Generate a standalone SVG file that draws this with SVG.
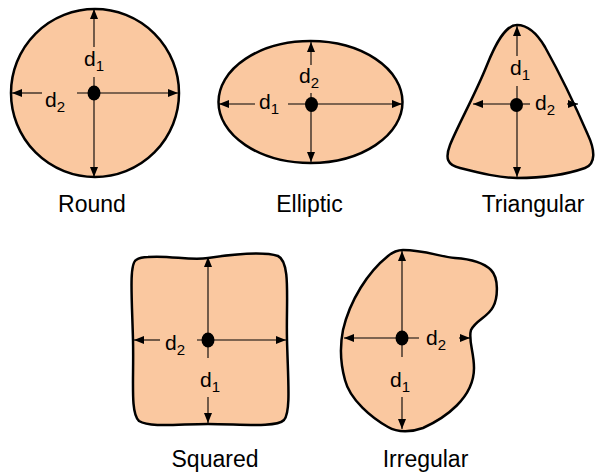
<svg xmlns="http://www.w3.org/2000/svg" width="596" height="474" viewBox="0 0 596 474">
<style>
.shape{fill:#FAC8A0;stroke:#000;stroke-width:2.5;stroke-linejoin:round}
.dim{stroke:#000;stroke-width:1.1;fill:none}
.dot{fill:#000}
.lab{font-family:"Liberation Sans",Arial,sans-serif;font-size:21px;fill:#000}
.cap{font-family:"Liberation Sans",Arial,sans-serif;font-size:23px;fill:#000;text-anchor:middle}
</style>
<defs>
<marker id="ah" viewBox="0 0 10 8" refX="10" refY="4" markerWidth="10" markerHeight="8" markerUnits="userSpaceOnUse" orient="auto-start-reverse">
<path d="M0,0 L10,4 L0,8 Z" fill="#000"/>
</marker>
</defs>
<rect width="596" height="474" fill="#fff"/>

<g id="round">
<circle class="shape" cx="95" cy="93" r="84"/>
<text class="lab" x="84" y="66">d<tspan font-size="15" dy="5">1</tspan></text>
<text class="lab" x="45" y="107">d<tspan font-size="15" dy="5">2</tspan></text>
<ellipse class="dot" cx="94" cy="93" rx="6.5" ry="7.5"/>
</g>
<g id="elliptic">
<ellipse class="shape" cx="310.5" cy="102" rx="92" ry="61"/>
<text class="lab" x="299" y="83">d<tspan font-size="15" dy="5">2</tspan></text>
<text class="lab" x="259" y="109">d<tspan font-size="15" dy="5">1</tspan></text>
<ellipse class="dot" cx="311.5" cy="104.5" rx="6.5" ry="7.5"/>
</g>
<g id="triangular">
<path class="shape" d="M517,25 C505,25 495,45 487,65 C475,95 458,125 450,145 C445,158 447,165 460,168 C480,173 500,178 517,178 C540,178 565,175 585,168 C596,164 595,150 588,135 C575,105 555,65 545,47 C535,30 525,25 517,25 Z"/>
<text class="lab" x="510" y="75">d<tspan font-size="15" dy="5">1</tspan></text>
<text class="lab" x="535" y="110">d<tspan font-size="15" dy="5">2</tspan></text>
<ellipse class="dot" cx="516.5" cy="105" rx="6.5" ry="7"/>
</g>
<g id="squared">
<path class="shape" d="M148,257 C170,255 190,261 208,258 C235,254 262,251 278,256 C291,262 286,300 287,340 C288,380 291,412 284,420 C276,428 240,424 208,424 C180,424 150,428 139,421 C130,413 134,380 133,340 C132,300 129,264 136,260 C139,258 142,257 148,257 Z"/>
<text class="lab" x="165" y="350">d<tspan font-size="15" dy="5">2</tspan></text>
<text class="lab" x="200" y="387">d<tspan font-size="15" dy="5">1</tspan></text>
<ellipse class="dot" cx="208" cy="340" rx="6.5" ry="7.5"/>
</g>
<g id="irregular">
<path class="shape" d="M403,250 C425,250 440,257 455,258 C470,259 483,262 491,270 C499,278 498,298 493,307 C488,317 476,320 471,330 C468,340 474,352 474,368 C474,398 445,418 423,428 C412,432 398,433 388,427 C372,418 350,400 345,380 C340,362 340,345 343,330 C350,300 368,272 388,256 C394,251 398,250 403,250 Z"/>
<text class="lab" x="426" y="345">d<tspan font-size="15" dy="5">2</tspan></text>
<text class="lab" x="390" y="387">d<tspan font-size="15" dy="5">1</tspan></text>
<ellipse class="dot" cx="402" cy="338" rx="6.5" ry="7.5"/>
</g>

<g id="connectors">
<line class="dim" x1="94" y1="47" x2="94" y2="9" marker-end="url(#ah)"/>
<line class="dim" x1="94" y1="77" x2="94" y2="177" marker-end="url(#ah)"/>
<line class="dim" x1="42" y1="93" x2="12" y2="93" marker-end="url(#ah)"/>
<line class="dim" x1="77" y1="93" x2="178" y2="93" marker-end="url(#ah)"/>
<line class="dim" x1="311" y1="65" x2="311" y2="42" marker-end="url(#ah)"/>
<line class="dim" x1="311" y1="93" x2="311" y2="162" marker-end="url(#ah)"/>
<line class="dim" x1="255" y1="104" x2="219" y2="104" marker-end="url(#ah)"/>
<line class="dim" x1="288" y1="104" x2="402" y2="104" marker-end="url(#ah)"/>
<line class="dim" x1="517" y1="56" x2="517" y2="26" marker-end="url(#ah)"/>
<line class="dim" x1="517" y1="86" x2="517" y2="177" marker-end="url(#ah)"/>
<line class="dim" x1="517" y1="104" x2="473" y2="104" marker-end="url(#ah)"/>
<line class="dim" x1="517" y1="104" x2="530" y2="104"/>
<line class="dim" x1="567" y1="104" x2="578" y2="104" marker-end="url(#ah)"/>
<line class="dim" x1="208" y1="358" x2="208" y2="257" marker-end="url(#ah)"/>
<line class="dim" x1="208" y1="397" x2="208" y2="423" marker-end="url(#ah)"/>
<line class="dim" x1="160" y1="340" x2="134" y2="340" marker-end="url(#ah)"/>
<line class="dim" x1="197" y1="340" x2="286" y2="340" marker-end="url(#ah)"/>
<line class="dim" x1="402" y1="357" x2="402" y2="251" marker-end="url(#ah)"/>
<line class="dim" x1="402" y1="397" x2="402" y2="429" marker-end="url(#ah)"/>
<line class="dim" x1="419" y1="338" x2="344" y2="338" marker-end="url(#ah)"/>
<line class="dim" x1="459" y1="338" x2="470" y2="338" marker-end="url(#ah)"/>
</g>

<g id="captions">
<text class="cap" x="92" y="212">Round</text>
<text class="cap" x="309.5" y="212">Elliptic</text>
<text class="cap" x="533" y="212">Triangular</text>
<text class="cap" x="215" y="467">Squared</text>
<text class="cap" x="425.5" y="467">Irregular</text>
</g>
</svg>
